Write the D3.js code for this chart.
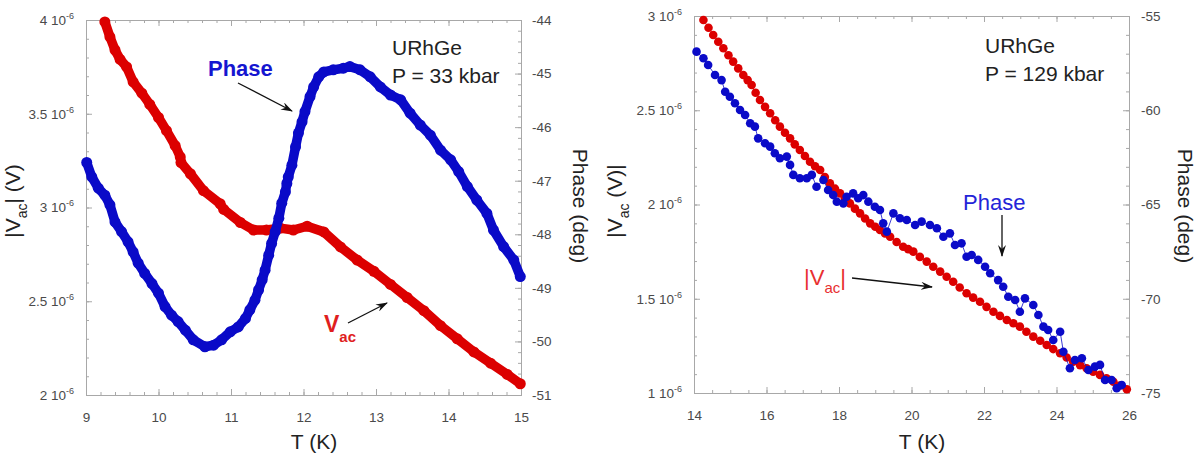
<!DOCTYPE html>
<html>
<head>
<meta charset="utf-8">
<title>URhGe ac calorimetry</title>
<script src="https://cdnjs.cloudflare.com/ajax/libs/d3/7.8.5/d3.min.js"></script>
<style>
    body { margin: 0; background: #fff; }
    svg { font-family: "Liberation Sans", Arial, sans-serif; }
    .axis path, .axis line { stroke: #a8a8a8; stroke-width: 1px; }
    .axis text { fill: #4a4a4a; font-size: 13.5px; font-family: "Liberation Sans", Arial, sans-serif; }
</style>
</head>
<body>
<svg></svg>
<script>
    var vWidth = 1200;
    var vHeight = 469;
    var vRed = '#dc0000';
    var vBlue = '#0a0ac8';

    // ---- left panel, P = 33 kbar ----
    var t33Vac = [9.26, 9.33, 9.40, 9.47, 9.56, 9.65, 9.77, 9.88, 10.00, 10.11, 10.23, 10.30, 10.31,
        10.44, 10.62, 10.85, 10.90, 11.13, 11.31, 11.49, 11.68, 11.86, 12.05, 12.28, 12.51, 12.74,
        12.97, 13.20, 13.43, 13.66, 13.89, 14.12, 14.35, 14.58, 14.81, 14.99];
    var vac33 = [3.99, 3.91, 3.84, 3.79, 3.75, 3.67, 3.61, 3.55, 3.48, 3.41, 3.33, 3.27, 3.24,
        3.18, 3.09, 3.02, 2.99, 2.92, 2.88, 2.88, 2.89, 2.88, 2.90, 2.87, 2.79, 2.72,
        2.66, 2.59, 2.52, 2.45, 2.37, 2.30, 2.23, 2.17, 2.11, 2.06];

    var t33Ph = [9.01, 9.08, 9.17, 9.26, 9.33, 9.40, 9.49, 9.58, 9.65, 9.72, 9.81, 9.91, 10.00,
        10.09, 10.18, 10.27, 10.37, 10.48, 10.64, 10.76, 10.87, 10.99, 11.10, 11.20, 11.26, 11.33,
        11.38, 11.43, 11.47, 11.52, 11.56, 11.61, 11.66, 11.70, 11.75, 11.77, 11.79, 11.84, 11.89,
        11.93, 11.98, 12.02, 12.09, 12.14, 12.21, 12.28, 12.41, 12.55, 12.64, 12.78, 12.92, 13.06,
        13.20, 13.34, 13.47, 13.61, 13.75, 13.89, 14.03, 14.14, 14.26, 14.39, 14.53, 14.62, 14.76,
        14.90, 14.99];
    var ph33 = [-46.66, -46.93, -47.14, -47.27, -47.45, -47.77, -47.95, -48.14, -48.33, -48.54,
        -48.73, -48.92, -49.10, -49.35, -49.51, -49.63, -49.79, -49.97, -50.10, -50.07, -49.97,
        -49.82, -49.73, -49.57, -49.41, -49.23, -49.04, -48.85, -48.67, -48.39, -48.17, -47.95,
        -47.70, -47.42, -47.21, -47.05, -46.93, -46.71, -46.37, -46.11, -45.90, -45.71, -45.43,
        -45.25, -45.06, -44.97, -44.93, -44.90, -44.87, -44.93, -45.06, -45.25, -45.40, -45.49,
        -45.74, -45.96, -46.15, -46.43, -46.61, -46.83, -47.11, -47.36, -47.61, -47.92, -48.23,
        -48.48, -48.79];

    // ---- right panel, P = 129 kbar ----
    var t129Vac = [14.26, 14.40, 14.53, 14.67, 14.81, 14.95, 15.08, 15.22, 15.36, 15.48, 15.59,
        15.70, 15.82, 15.96, 16.10, 16.24, 16.37, 16.51, 16.65, 16.78, 16.92, 17.06, 17.20, 17.34,
        17.48, 17.61, 17.75, 17.89, 18.03, 18.16, 18.30, 18.44, 18.58, 18.72, 18.86, 19.00, 19.13,
        19.27, 19.41, 19.59, 19.77, 19.91, 20.05, 20.23, 20.42, 20.60, 20.79, 20.97, 21.15, 21.33,
        21.52, 21.70, 21.89, 22.07, 22.26, 22.44, 22.63, 22.81, 22.99, 23.17, 23.36, 23.55, 23.73,
        23.91, 24.10, 24.28, 24.46, 24.65, 24.83, 25.01, 25.20, 25.38, 25.57, 25.75, 25.94];
    var vac129 = [2.979, 2.938, 2.899, 2.863, 2.829, 2.792, 2.758, 2.722, 2.687, 2.660, 2.634,
        2.593, 2.554, 2.518, 2.484, 2.447, 2.413, 2.381, 2.351, 2.319, 2.289, 2.257, 2.227, 2.203,
        2.183, 2.146, 2.112, 2.084, 2.059, 2.031, 2.006, 1.978, 1.953, 1.926, 1.900, 1.882, 1.865,
        1.846, 1.829, 1.801, 1.776, 1.763, 1.750, 1.722, 1.697, 1.670, 1.644, 1.617, 1.590, 1.560,
        1.529, 1.506, 1.484, 1.457, 1.431, 1.409, 1.387, 1.370, 1.352, 1.325, 1.299, 1.277, 1.255,
        1.233, 1.211, 1.188, 1.166, 1.148, 1.131, 1.113, 1.096, 1.078, 1.060, 1.040, 1.020];

    var t129Ph = [14.07, 14.26, 14.39, 14.58, 14.76, 14.86, 14.99, 15.13, 15.27, 15.41, 15.55,
        15.68, 15.77, 15.96, 16.10, 16.23, 16.37, 16.56, 16.65, 16.74, 16.92, 17.11, 17.25, 17.38,
        17.57, 17.70, 17.84, 17.94, 18.12, 18.21, 18.39, 18.53, 18.67, 18.81, 18.99, 19.13, 19.22,
        19.32, 19.50, 19.68, 19.87, 20.10, 20.28, 20.51, 20.70, 20.88, 21.06, 21.20, 21.38, 21.52,
        21.66, 21.84, 22.03, 22.17, 22.39, 22.53, 22.67, 22.86, 22.99, 23.13, 23.36, 23.50, 23.64,
        23.77, 23.91, 24.10, 24.19, 24.37, 24.51, 24.70, 24.88, 25.06, 25.20, 25.34, 25.52, 25.66,
        25.80];
    var ph129 = [-56.89, -57.24, -57.60, -58.13, -58.40, -59.02, -59.28, -59.63, -59.99, -60.25,
        -60.69, -60.87, -61.49, -61.75, -61.93, -62.28, -62.55, -62.46, -62.90, -63.43, -63.61,
        -63.61, -63.43, -64.06, -63.70, -64.23, -64.50, -64.85, -64.94, -64.59, -64.41, -64.67,
        -64.50, -64.85, -65.12, -65.29, -66.00, -66.44, -65.47, -65.73, -65.82, -66.09, -65.91,
        -66.09, -66.26, -66.71, -66.53, -67.15, -67.06, -67.77, -67.68, -67.94, -68.30, -68.65,
        -69.01, -69.36, -69.89, -70.07, -70.69, -69.98, -70.33, -70.86, -71.48, -71.66, -72.19,
        -71.75, -72.81, -73.69, -73.25, -73.16, -73.78, -73.60, -73.51, -74.31, -74.31, -74.75,
        -74.58];

    // tick labels
    var xTicks33 = [9, 10, 11, 12, 13, 14, 15];
    var vTicks33 = [2, 2.5, 3, 3.5, 4];
    var phTicks33 = [-51, -50, -49, -48, -47, -46, -45, -44];
    var xTicks129 = [14, 16, 18, 20, 22, 24, 26];
    var vTicks129 = [1, 1.5, 2, 2.5, 3];
    var phTicks129 = [-75, -70, -65, -60, -55];

    var svg = d3.select('svg')
        .attr('width', vWidth)
        .attr('height', vHeight);

    var defs = svg.append('defs');
    defs.append('marker')
        .attr('id', 'arr')
        .attr('viewBox', '0 0 12 8')
        .attr('refX', 11).attr('refY', 4)
        .attr('markerWidth', 12).attr('markerHeight', 8)
        .attr('markerUnits', 'userSpaceOnUse')
        .attr('orient', 'auto')
        .append('path')
        .attr('d', 'M0,0 L12,4 L0,8 L4,4 Z')
        .attr('fill', '#111');

    function zip(a, b) { return a.map(function (d, i) { return [d, b[i]]; }); }
    function plain(d) { return String(d); }

    function sciLabels(sel) {
        sel.selectAll('.tick text').each(function (d) {
            var t = d3.select(this);
            t.text(d + ' 10');
            t.append('tspan').attr('dy', -6).attr('font-size', 9).text('-6');
        });
    }

    function drawPanel(p) {
        var x = d3.scaleLinear().domain(p.xDom).range([p.left, p.right]);
        var yV = d3.scaleLinear().domain(p.vDom).range([p.bottom, p.top]);
        var yP = d3.scaleLinear().domain(p.phDom).range([p.bottom, p.top]);

        var xMinor = d3.range(p.xDom[0], p.xDom[1] + 1e-6, p.xMinor);
        var vMinor = d3.range(p.vDom[0], p.vDom[1] + 1e-6, 0.1);
        var pMinor = d3.range(p.phDom[0], p.phDom[1] + 1e-6, p.pMinor);

        var g = svg.append('g');

        // minor ticks (all four sides)
        g.append('g').attr('class', 'axis').attr('transform', 'translate(0,' + p.bottom + ')')
            .call(d3.axisBottom(x).tickValues(xMinor).tickSize(-3).tickFormat(''));
        g.append('g').attr('class', 'axis').attr('transform', 'translate(0,' + p.top + ')')
            .call(d3.axisTop(x).tickValues(xMinor).tickSize(-3).tickFormat(''));
        g.append('g').attr('class', 'axis').attr('transform', 'translate(' + p.left + ',0)')
            .call(d3.axisLeft(yV).tickValues(vMinor).tickSize(-3).tickFormat(''));
        g.append('g').attr('class', 'axis').attr('transform', 'translate(' + p.right + ',0)')
            .call(d3.axisRight(yP).tickValues(pMinor).tickSize(-3).tickFormat(''));

        // major ticks
        g.append('g').attr('class', 'axis').attr('transform', 'translate(0,' + p.bottom + ')')
            .call(d3.axisBottom(x).tickValues(p.xTicks).tickSize(-6).tickPadding(17).tickFormat(plain));
        g.append('g').attr('class', 'axis').attr('transform', 'translate(0,' + p.top + ')')
            .call(d3.axisTop(x).tickValues(p.xTicks).tickSize(-6).tickFormat(''));
        g.append('g').attr('class', 'axis').attr('transform', 'translate(' + p.left + ',0)')
            .call(d3.axisLeft(yV).tickValues(p.vTicks).tickSize(-6).tickPadding(12))
            .call(sciLabels);
        g.append('g').attr('class', 'axis').attr('transform', 'translate(' + p.right + ',0)')
            .call(d3.axisRight(yP).tickValues(p.phTicks).tickSize(-6).tickPadding(p.rPad).tickFormat(plain));

        // series
        var vacPts = zip(p.tVac, p.vac);
        var phPts = zip(p.tPh, p.ph);
        var lineV = d3.line().x(function (d) { return x(d[0]); }).y(function (d) { return yV(d[1]); });
        var lineP = d3.line().x(function (d) { return x(d[0]); }).y(function (d) { return yP(d[1]); });

        [[vacPts, lineV, yV, vRed], [phPts, lineP, yP, vBlue]].forEach(function (s) {
            g.append('path')
                .attr('d', s[1](s[0]))
                .attr('fill', 'none')
                .attr('stroke', s[3])
                .attr('stroke-width', p.band)
                .attr('stroke-linejoin', 'round')
                .attr('stroke-linecap', 'round');
            g.append('g').selectAll('circle')
                .data(s[0])
                .enter().append('circle')
                .attr('cx', function (d) { return x(d[0]); })
                .attr('cy', function (d) { return s[2](d[1]); })
                .attr('r', p.r)
                .attr('fill', s[3]);
        });

        // axis titles
        g.append('text')
            .attr('x', p.xTitleX).attr('y', 449)
            .attr('text-anchor', 'middle')
            .attr('font-size', 21).attr('fill', '#222')
            .text('T (K)');

        var yt = g.append('text')
            .attr('transform', 'translate(' + p.yTitleX + ',201) rotate(-90)')
            .attr('text-anchor', 'middle')
            .attr('font-size', 21).attr('fill', '#222');
        yt.append('tspan').text('|V');
        yt.append('tspan').attr('dy', 7).attr('font-size', 14).text('ac');
        yt.append('tspan').attr('dy', -7).text(p.vTitleTail);

        g.append('text')
            .attr('transform', 'translate(' + p.pTitleX + ',206) rotate(90)')
            .attr('text-anchor', 'middle')
            .attr('font-size', 21).attr('fill', '#222')
            .text('Phase (deg)');

        g.append('text').attr('x', p.noteX).attr('y', p.noteY)
            .attr('font-size', 21).attr('fill', '#222').text('URhGe');
        g.append('text').attr('x', p.noteX).attr('y', p.noteY + 28)
            .attr('font-size', 21).attr('fill', '#222').text(p.pressure);

        return g;
    }

    var g33 = drawPanel({
        left: 86, right: 521, top: 20, bottom: 395,
        xDom: [9, 15], vDom: [2, 4], phDom: [-51, -44],
        xTicks: xTicks33, vTicks: vTicks33, phTicks: phTicks33,
        xMinor: 0.2, pMinor: 0.2, rPad: 11,
        tVac: t33Vac, vac: vac33, tPh: t33Ph, ph: ph33,
        r: 5.5, band: 9.5,
        xTitleX: 314, yTitleX: 20, pTitleX: 573, vTitleTail: '| (V)',
        noteX: 392, noteY: 55, pressure: 'P = 33 kbar'
    });

    var g129 = drawPanel({
        left: 694, right: 1129, top: 16, bottom: 393,
        xDom: [14, 26], vDom: [1, 3], phDom: [-75, -55],
        xTicks: xTicks129, vTicks: vTicks129, phTicks: phTicks129,
        xMinor: 0.5, pMinor: 1, rPad: 12,
        tVac: t129Vac, vac: vac129, tPh: t129Ph, ph: ph129,
        r: 4.3, band: 0.8,
        xTitleX: 922, yTitleX: 622, pTitleX: 1178, vTitleTail: ' (V)|',
        noteX: 985, noteY: 53, pressure: 'P = 129 kbar'
    });

    // annotations, left panel
    g33.append('text').attr('x', 208).attr('y', 76)
        .attr('font-size', 22).attr('font-weight', 'bold').attr('fill', '#1515d0')
        .text('Phase');
    g33.append('line').attr('x1', 238).attr('y1', 83).attr('x2', 292).attr('y2', 111)
        .attr('stroke', '#111').attr('stroke-width', 1.3).attr('marker-end', 'url(#arr)');
    var va = g33.append('text').attr('x', 324).attr('y', 332)
        .attr('font-size', 23).attr('font-weight', 'bold').attr('fill', '#e01e1e');
    va.append('tspan').text('V');
    va.append('tspan').attr('dy', 10).attr('font-size', 15).text('ac');
    g33.append('line').attr('x1', 348).attr('y1', 323).attr('x2', 387).attr('y2', 303)
        .attr('stroke', '#111').attr('stroke-width', 1.3).attr('marker-end', 'url(#arr)');

    // annotations, right panel
    g129.append('text').attr('x', 963).attr('y', 210)
        .attr('font-size', 22).attr('fill', '#2424d8')
        .text('Phase');
    g129.append('line').attr('x1', 1002).attr('y1', 215).attr('x2', 1002).attr('y2', 256)
        .attr('stroke', '#111').attr('stroke-width', 1.3).attr('marker-end', 'url(#arr)');
    var vr = g129.append('text').attr('x', 804).attr('y', 285)
        .attr('font-size', 22).attr('fill', '#e83030');
    vr.append('tspan').text('|V');
    vr.append('tspan').attr('dy', 8).attr('font-size', 15).text('ac');
    vr.append('tspan').attr('dy', -8).text('|');
    g129.append('line').attr('x1', 852).attr('y1', 278).attr('x2', 932).attr('y2', 287)
        .attr('stroke', '#111').attr('stroke-width', 1.3).attr('marker-end', 'url(#arr)');
</script>
</body>
</html>
